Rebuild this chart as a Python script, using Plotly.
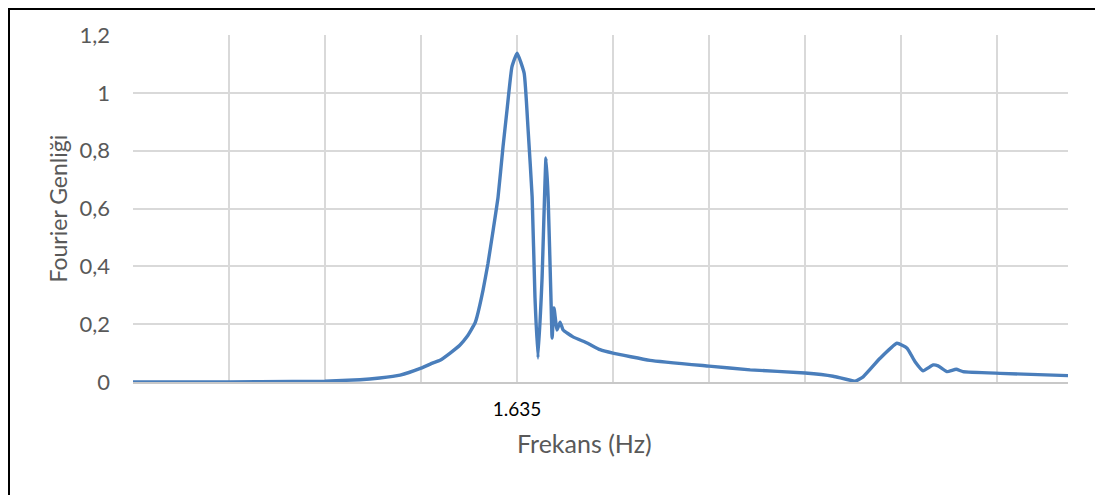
import plotly.graph_objects as go

# frequency (Hz) and Fourier amplitude
freq = [0.000, 0.285, 0.541, 0.817, 0.966, 1.050, 1.137, 1.226, 1.277, 1.307,
        1.350, 1.392, 1.422, 1.456, 1.464, 1.490, 1.511, 1.533, 1.554, 1.575,
        1.592, 1.613, 1.635, 1.665, 1.682, 1.699, 1.711, 1.724, 1.741, 1.758,
        1.767, 1.779, 1.784, 1.792, 1.805, 1.818, 1.831, 1.873, 1.933, 1.988,
        2.043, 2.201, 2.452, 2.627, 2.861, 2.980, 3.074, 3.108, 3.180, 3.252,
        3.295, 3.329, 3.363, 3.406, 3.427, 3.465, 3.504, 3.533, 3.691, 3.980]
amp = [0.000, 0.000, 0.001, 0.003, 0.008, 0.014, 0.024, 0.048, 0.066, 0.075,
       0.100, 0.128, 0.157, 0.204, 0.225, 0.318, 0.410, 0.525, 0.640, 0.813,
       0.940, 1.090, 1.137, 1.068, 0.870, 0.640, 0.294, 0.083, 0.353, 0.775,
       0.640, 0.294, 0.152, 0.256, 0.180, 0.207, 0.180, 0.156, 0.135, 0.112,
       0.100, 0.075, 0.055, 0.042, 0.031, 0.020, 0.003, 0.018, 0.082, 0.134,
       0.117, 0.070, 0.039, 0.059, 0.056, 0.036, 0.044, 0.036, 0.030, 0.022]

x_grid = [0, 0.40875, 0.8175, 1.22625, 1.635, 2.04375, 2.4525, 2.86125, 3.27, 3.67875]
x_labels = ["", "", "", "", "1.635", "", "", "", "", ""]
y_ticks = [0, 0.2, 0.4, 0.6, 0.8, 1.0, 1.2]
y_labels = ["0", "0,2", "0,4", "0,6", "0,8", "1", "1,2"]

# page body has an 8px margin, so the figure is laid out 8px up/left
W, H = 1095, 487
L, T, R, B = 125, 27, 35, 113
pw, ph = W - L - R, H - T - B

fig = go.Figure()
fig.add_trace(go.Scatter(x=freq, y=amp, mode="lines",
                         line=dict(color="#4A7EBB", width=3.4, shape="spline", smoothing=0.4),
                         showlegend=False, hoverinfo="x+y"))

fig.update_layout(
    width=W, height=H,
    margin=dict(l=L, r=R, t=T, b=B),
    paper_bgcolor="white", plot_bgcolor="white",
    font=dict(family="Lato", color="#595959"),
    xaxis=dict(range=[0, 3.98], tickvals=x_grid, ticktext=x_labels,
               showgrid=True, gridcolor="#D9D9D9", gridwidth=1.5,
               showline=True, linecolor="#C8C8C8", linewidth=1.5,
               zeroline=False, ticks="", ticklabelstandoff=9,
               tickfont=dict(size=19, color="black")),
    yaxis=dict(range=[0, 1.2], tickvals=y_ticks, ticktext=y_labels,
               showgrid=True, gridcolor="#D9D9D9", gridwidth=1.5,
               zeroline=False, showline=False, ticks="", ticklabelstandoff=22,
               tickfont=dict(size=22, color="#595959")),
    annotations=[
        dict(text="Frekans (Hz)", xref="paper", yref="paper",
             x=(584 - 133) / pw, y=-(443 - 382) / ph, showarrow=False,
             xanchor="center", yanchor="middle",
             font=dict(size=25, color="#595959")),
        dict(text="Fourier Genliği", xref="paper", yref="paper",
             x=-(133 - 57) / pw, y=0.5, showarrow=False, textangle=-90,
             xanchor="center", yanchor="middle",
             font=dict(size=23, color="#595959")),
    ],
    shapes=[dict(type="rect", xref="paper", yref="paper",
                 x0=-(L - 1) / pw, x1=(1091 - L) / pw,
                 y0=-(B + 20) / ph, y1=(ph + T - 1) / ph,
                 line=dict(color="black", width=2), fillcolor="rgba(0,0,0,0)")],
)

fig.write_html("out.html")
